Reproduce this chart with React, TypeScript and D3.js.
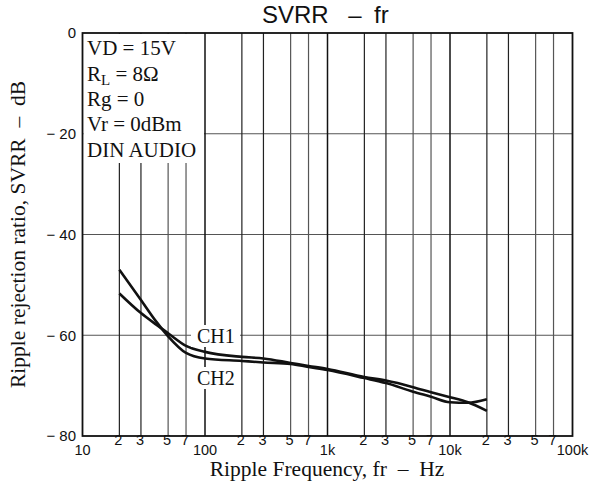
import React from 'react';
import * as d3 from 'd3';

const W = 592;
const H = 496;

// data
const freqs = [20, 30, 40, 50, 70, 100, 200, 300, 500, 700, 1000, 2000, 3000, 5000, 7000, 10000, 14000, 20000];
const svrrCH1 = [-51.7, -55.6, -57.9, -59.6, -62.1, -63.3, -64.3, -64.6, -65.5, -66.1, -66.7, -68.3, -69.0, -70.3, -71.3, -72.3, -73.3, -75.0];
const svrrCH2 = [-47.0, -53.0, -57.3, -60.2, -63.5, -64.6, -65.1, -65.4, -65.7, -66.3, -66.9, -68.5, -69.5, -71.2, -72.2, -73.3, -73.4, -72.7];

const decades = [10, 100, 1000, 10000, 100000];
const decadeLabels = ['10', '100', '1k', '10k', '100k'];
const minorSteps = [2, 3, 5, 7];
const yTicks = [0, -20, -40, -60, -80];
const yTickLabels = ['0', '\u2212 20', '\u2212 40', '\u2212 60', '\u2212 80'];
const conditions = ['VD = 15V', 'RL = 8\u03a9', 'Rg = 0', 'Vr = 0dBm', 'DIN AUDIO'];

const left = 82.5;
const right = 572.5;
const top = 33;
const bottom = 436;

const SANS = '"Liberation Sans", Arial, Helvetica, sans-serif';
const SERIF = '"Liberation Serif", "Times New Roman", Times, serif';

export default function App() {
  const x = d3.scaleLog().domain([10, 100000]).range([left, right]);
  const y = d3.scaleLinear().domain([0, -80]).range([top, bottom]);

  const line = d3
    .line<[number, number]>()
    .x((d) => x(d[0]))
    .y((d) => y(d[1]))
    .curve(d3.curveMonotoneX);

  const ch1 = line(freqs.map((f, i) => [f, svrrCH1[i]] as [number, number])) || '';
  const ch2 = line(freqs.map((f, i) => [f, svrrCH2[i]] as [number, number])) || '';

  const minorFreqs: number[] = [];
  decades.slice(0, 4).forEach((d) => minorSteps.forEach((m) => minorFreqs.push(d * m)));
  const majorInner = decades.slice(1, 4);

  const boxBottom = 163;

  return (
    <svg
      width={W}
      height={H}
      viewBox={`0 0 ${W} ${H}`}
      style={{ position: 'absolute', left: 0, top: 0, background: '#fff' }}
    >
      <rect x={0} y={0} width={W} height={H} fill="#fff" />
      {/* title */}
      <g fontFamily={SANS} fontSize={24} fill="#111">
        <text x={262} y={23}>SVRR</text>
        <text x={355} y={23} textAnchor="middle">{'\u2013'}</text>
        <text x={374} y={23}>fr</text>
      </g>

      {/* horizontal grid */}
      {yTicks.slice(1, 4).map((t) => (
        <line key={'h' + t} x1={left} x2={right} y1={y(t)} y2={y(t)} stroke="#555" strokeWidth={1.2} />
      ))}
      {/* vertical grid minor */}
      {minorFreqs.map((f, i) => (
        <line
          key={'v' + f}
          x1={x(f)}
          x2={x(f)}
          y1={top}
          y2={bottom}
          stroke={i % 4 >= 2 ? '#555' : '#222'}
          strokeWidth={1.2}
        />
      ))}
      {majorInner.map((f) => (
        <line key={'m' + f} x1={x(f)} x2={x(f)} y1={top} y2={bottom} stroke="#111" strokeWidth={1.5} />
      ))}

      {/* condition box */}
      <rect x={left + 1} y={top + 1} width={x(100) - left - 2} height={boxBottom - top - 1} fill="#fff" />
      <text fontFamily={SERIF} fontSize={21} fill="#111">
        {conditions.map((c, i) => {
          const by = [55, 80.5, 106, 131, 156.5][i];
          if (i === 1) {
            return (
              <tspan key={i} x={87} y={by}>
                R
                <tspan fontSize={15} dy={4}>L</tspan>
                <tspan dy={-4}>{' = 8\u03a9'}</tspan>
              </tspan>
            );
          }
          return (
            <tspan key={i} x={87} y={by}>
              {c}
            </tspan>
          );
        })}
      </text>

      {/* curves */}
      <path d={ch1} fill="none" stroke="#111" strokeWidth={2.6} strokeLinejoin="round" />
      <path d={ch2} fill="none" stroke="#111" strokeWidth={2.6} strokeLinejoin="round" />

      {/* curve labels */}
      <rect x={191} y={325} width={49} height={22} fill="#fff" />
      <text x={197} y={343} fontFamily={SERIF} fontSize={20} fill="#111">CH1</text>
      <rect x={194} y={367} width={45} height={22} fill="#fff" />
      <text x={197} y={385} fontFamily={SERIF} fontSize={20} fill="#111">CH2</text>

      {/* frame */}
      <rect x={left} y={top} width={right - left} height={bottom - top} fill="none" stroke="#111" strokeWidth={1.8} />

      {/* y tick labels */}
      {yTicks.map((t, i) => (
        <text key={'yl' + t} x={76} y={y(t)} dy="0.35em" textAnchor="end" fontFamily={SANS} fontSize={15} fill="#111" style={{ whiteSpace: 'pre' }}>
          {yTickLabels[i]}
        </text>
      ))}

      {/* x tick labels */}
      {minorFreqs.map((f, i) => (
        <text key={'xl' + f} x={x(f) - 1} y={445} textAnchor="middle" fontFamily={SANS} fontSize={14.5} fill="#111">
          {minorSteps[i % 4]}
        </text>
      ))}
      {decades.map((d, i) => (
        <text key={'xd' + d} x={x(d)} y={455} textAnchor="middle" fontFamily={SANS} fontSize={14.5} fill="#111">
          {decadeLabels[i]}
        </text>
      ))}

      {/* axis titles */}
      <text x={327} y={476} textAnchor="middle" fontFamily={SERIF} fontSize={21.5} fill="#111" style={{ whiteSpace: 'pre' }}>
        {'Ripple Frequency, fr  \u2013  Hz'}
      </text>
      <text
        transform={`translate(25, ${(top + bottom) / 2}) rotate(-90)`}
        textAnchor="middle"
        fontFamily={SERIF}
        fontSize={21.5}
        fill="#111"
        style={{ whiteSpace: 'pre' }}
      >
        {'Ripple rejection ratio, SVRR  \u2013  dB'}
      </text>
    </svg>
  );
}
